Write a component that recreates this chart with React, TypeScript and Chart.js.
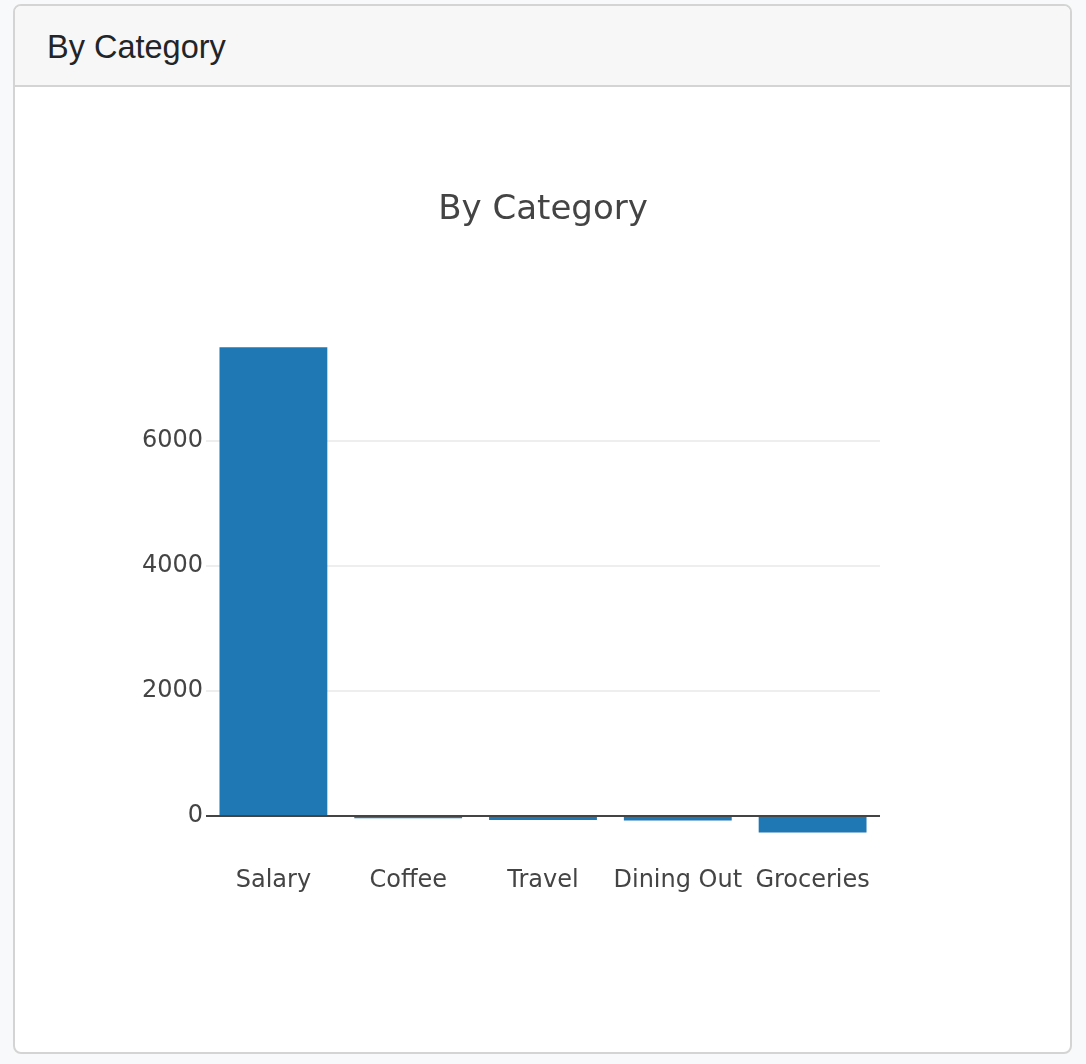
import React, { useEffect, useRef } from "react";
import { Chart, registerables } from "chart.js";

Chart.register(...registerables);

const cardTitle = "By Category";
const chartTitle = "By Category";
const categories = ["Salary", "Coffee", "Travel", "Dining Out", "Groceries"];
const amounts = [7490, -35, -65, -70, -265];
const yTickValues = [0, 2000, 4000, 6000];
const yMin = -650;
const yMax = 7880;

const FONT = "'DejaVu Sans', Verdana, sans-serif";

const zeroLinePlugin = {
  id: "zeroLine",
  afterDatasetsDraw(chart: any) {
    const { ctx, chartArea, scales } = chart;
    const y = scales.y.getPixelForValue(0);
    ctx.save();
    ctx.strokeStyle = "#444";
    ctx.lineWidth = 2;
    ctx.beginPath();
    ctx.moveTo(chartArea.left, y);
    ctx.lineTo(chartArea.right, y);
    ctx.stroke();
    ctx.restore();
  },
};

function BarChart() {
  const ref = useRef<HTMLCanvasElement | null>(null);
  useEffect(() => {
    if (!ref.current) return;
    const chart = new Chart(ref.current, {
      type: "bar",
      data: {
        labels: categories,
        datasets: [
          {
            data: amounts,
            backgroundColor: "#1f77b4",
            borderWidth: 0,
            barPercentage: 0.8,
            categoryPercentage: 1,
          },
        ],
      },
      options: {
        animation: false,
        responsive: false,
        layout: { padding: { left: 90, right: 90, top: 0, bottom: 0 } },
        plugins: {
          legend: { display: false },
          tooltip: { enabled: false },
          title: {
            display: true,
            text: chartTitle,
            color: "#444",
            font: { family: FONT, size: 34, weight: "normal", lineHeight: 1.2 },
            padding: { top: 103, bottom: 92.1 },
          },
        },
        scales: {
          x: {
            type: "category",
            grid: { display: false, drawTicks: false },
            border: { display: false },
            ticks: {
              color: "#444",
              font: { family: FONT, size: 24 },
              padding: 10,
              maxRotation: 0,
              autoSkip: false,
            },
            afterFit: (s: any) => {
              s.height = 195.3;
            },
          },
          y: {
            position: "left",
            min: yMin,
            max: yMax,
            grid: {
              color: (c: any) => (c.tick && c.tick.value === 0 ? "rgba(0,0,0,0)" : "#eeeeee"),
              lineWidth: 2,
              drawTicks: false,
            },
            border: { display: false },
            ticks: {
              color: "#444",
              font: { family: FONT, size: 24 },
              padding: 3,
              callback: (v: any) => String(v),
            },
            afterBuildTicks: (s: any) => {
              s.ticks = yTickValues.map((v) => ({ value: v }));
            },
            afterFit: (s: any) => {
              s.width = 101;
            },
          },
          yRight: {
            type: "linear",
            position: "right",
            display: true,
            grid: { display: false, drawTicks: false },
            border: { display: false },
            ticks: { display: false },
            afterFit: (s: any) => {
              s.width = 101;
            },
          },
        },
      },
      plugins: [zeroLinePlugin],
    } as any);
    return () => chart.destroy();
  }, []);
  return <canvas ref={ref} width={1056} height={965} style={{ display: "block" }} />;
}

export default function App() {
  return (
    <div style={{ position: "fixed", inset: 0, background: "#f8f9fa" }}>
      <div
        style={{
          position: "absolute",
          left: 13,
          top: 4,
          width: 1059,
          height: 1050,
          boxSizing: "border-box",
          border: "2px solid #d4d4d4",
          borderRadius: 8,
          background: "#ffffff",
          overflow: "hidden",
        }}
      >
        <div
          style={{
            height: 81,
            boxSizing: "border-box",
            paddingTop: 3,
            borderBottom: "2px solid #d4d4d4",
            background: "#f7f7f7",
            display: "flex",
            alignItems: "center",
            paddingLeft: 32,
            fontFamily: "'Liberation Sans', Arial, Helvetica, sans-serif",
            fontSize: 32.5,
            color: "#212529",
          }}
        >
          {cardTitle}
        </div>
        <BarChart />
      </div>
    </div>
  );
}
